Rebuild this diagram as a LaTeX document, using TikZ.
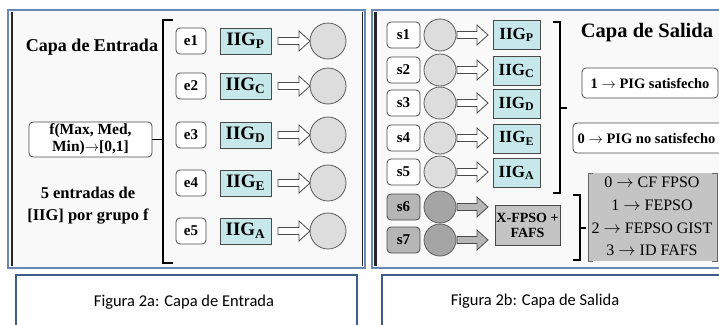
\documentclass[tikz,border=0pt]{standalone}
\usepackage{fontspec}
\setmainfont{Liberation Serif}
\newfontfamily\capfont{Carlito}
\definecolor{frameblue}{HTML}{6A88B4}
\definecolor{capblue}{HTML}{3E5C8A}
\definecolor{iigfill}{HTML}{C6E8EB}
\definecolor{circfill}{HTML}{DDDDDD}
\definecolor{darkcirc}{HTML}{A5A5A5}
\definecolor{sgray}{HTML}{B6B6B6}
\definecolor{boxgray}{HTML}{C4C4C4}
\definecolor{panelfill}{HTML}{F9F9F9}
\definecolor{edge}{HTML}{4A4A4A}
\newcommand{\fsz}[2]{\fontsize{#1}{#2}\selectfont}
\newcommand{\blkarr}[4][white]{\draw[arrline,fill=#1] (#2,#4-3.5) -- (#3-11,#4-3.5) -- (#3-11,#4-10) -- (#3,#4) -- (#3-11,#4+10) -- (#3-11,#4+3.5) -- (#2,#4+3.5) -- cycle;}
\tikzset{
  panel/.style={draw=frameblue, line width=1.6pt, fill=panelfill},
  darkline/.style={draw=black!85, line width=2.4pt},
  capbox/.style={draw=capblue, line width=2pt, fill=white},
  rbox/.style={draw=edge, line width=0.8pt, rounded corners=4pt, fill=white, inner sep=0pt},
  sbox/.style={rbox, minimum width=33pt, minimum height=26pt, font=\fsz{15}{15}\bfseries},
  ebox/.style={rbox, minimum width=30pt, minimum height=26pt, font=\fsz{15}{15}\bfseries},
  iig/.style={draw=edge, line width=0.8pt, fill=iigfill, inner sep=0pt},
  iigL/.style={iig, minimum width=51pt, minimum height=26pt, font=\fsz{19}{19}\bfseries},
  iigR/.style={iig, minimum width=47pt, minimum height=29pt, font=\fsz{17}{17}\bfseries},
  circ/.style={circle, draw=edge!90, line width=0.8pt, fill=circfill, inner sep=0pt},
  brack/.style={draw=black, line width=1.4pt},
  arrline/.style={draw=edge, line width=0.8pt},
}
\begin{document}
\begin{tikzpicture}[x=1pt,y=-1pt]
\useasboundingbox (0,0) rectangle (719,324);
\clip (0,0) rectangle (719,324);
\fill[white] (0,0) rectangle (719,324);
% panels
\draw[panel] (8,10) rectangle (365,268);
\draw[darkline] (12,12) -- (12,266);
\draw[darkline, line width=1.4pt] (362.5,12) -- (362.5,266);
\draw[panel] (372,10) rectangle (735,268);
\draw[darkline] (375.5,12) -- (375.5,266);
% captions
\draw[capbox] (16,275) rectangle (357,335);
\draw[capbox] (382,275) rectangle (735,335);
\node[font=\capfont\fsz{16.5}{16.5}] (capA) at (184,302) {Figura 2a: Capa de Entrada};
\node[font=\capfont\fsz{16.5}{16.5}] (capB) at (535,301) {Figura 2b: Capa de Salida};
% ---------- left panel
\node[font=\fsz{18}{18}\bfseries] (titA) at (92,47) {Capa de Entrada};
\node[rbox, minimum width=123pt, minimum height=35pt, align=center, font=\fsz{15.5}{17}\bfseries] (f) at (90.5,139.5) {f(Max, Med,\\Min)$\rightarrow$[0,1]};
\node[align=center, font=\fsz{16.5}{22}\bfseries] (five) at (88,206) {5 entradas de\\{}[IIG] por grupo f};
\coordinate (bt) at (163,20);
\coordinate (bb) at (163,263);
\coordinate (bm) at (163,139.5);
\draw[brack] (173,20) -- (bt) -- (bb) -- (173,263);
\draw[brack] (f.east) -- (bm);
\foreach \i/\y/\s in {1/41/P,2/86/C,3/135/D,4/183/E,5/231/A}{
  \node[ebox] (e\i) at (191,\y) {e\i};
  \node[iigL] (iL\i) at (245.5,\y) {IIG\textsubscript{\s}};
  \node[circ, minimum size=36pt] (cL\i) at (328,\y) {};
  \blkarr{278}{310}{\y}
}
% ---------- right panel
\foreach \i/\y in {1/35,2/70,3/103,4/138,5/172}{
  \node[sbox] (s\i) at (403.5,\y) {s\i};
  \node[circ, minimum size=32pt] (cR\i) at (440,\y) {};
  \blkarr{457}{488}{\y}
}
\foreach \i/\y in {6/207,7/240}{
  \node[sbox, fill=sgray] (s\i) at (403.5,\y) {s\i};
  \node[circ, fill=darkcirc, minimum size=32pt] (cR\i) at (440,\y) {};
  \blkarr[sgray]{457}{488}{\y}
}
\foreach \i/\y/\s in {1/35/P,2/71/C,3/104/D,4/138.5/E,5/173/A}{
  \node[iigR] (iR\i) at (516.5,\y) {IIG\textsubscript{\s}};
}
\node[draw=edge, line width=0.8pt, fill=boxgray, minimum width=65pt, minimum height=40pt, inner sep=0pt, align=center, font=\fsz{14}{15}\bfseries] (xf) at (527.5,225) {X-FPSO +\\FAFS};
\draw[brack] (553,22) -- (560,22) -- (560,193) -- (553,193);
\draw[brack] (560,108) -- (567,108);
\node[font=\fsz{20.5}{20.5}\bfseries] (titB) at (647,33) {Capa de Salida};
\node[rbox, minimum width=136pt, minimum height=30pt, font=\fsz{14.5}{14.5}\bfseries] (p1) at (650,83) {1 $\rightarrow$ PIG satisfecho};
\draw[rbox] (573,123) rectangle (730,153);
\node[font=\fsz{14.5}{14.5}\bfseries] (p0) at (646.5,138) {0 $\rightarrow$ PIG no satisfecho};
\draw[brack] (573,195) -- (580,195) -- (580,260) -- (573,260);
\draw[brack] (580,228) -- (586,228);
\fill[boxgray] (588,173) rectangle (717,261);
\draw[draw=black!60, line width=0.9pt] (593,173) -- (588,173) -- (588,261) -- (593,261);
\draw[draw=black!60, line width=0.9pt] (712,173) -- (717,173) -- (717,261) -- (712,261);
\node[font=\fsz{16}{16}] (l0) at (652,182) {0 $\rightarrow$ CF FPSO};
\node[font=\fsz{16}{16}] (l1) at (652,205) {1 $\rightarrow$ FEPSO};
\node[font=\fsz{16}{16}] (l2) at (652,228) {2 $\rightarrow$ FEPSO GIST};
\node[font=\fsz{16}{16}] (l3) at (652,250) {3 $\rightarrow$ ID FAFS};
\end{tikzpicture}
\end{document}
